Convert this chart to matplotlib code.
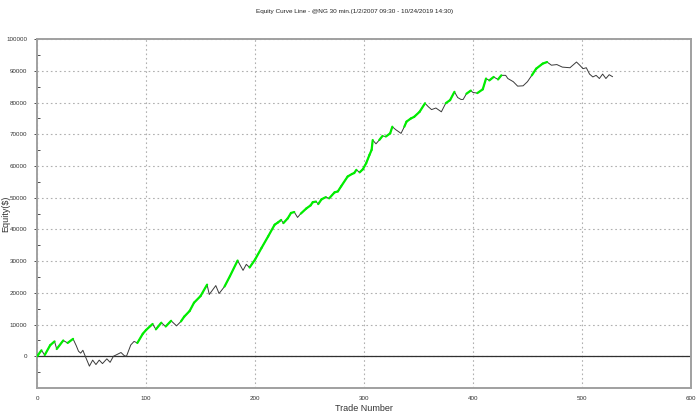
import numpy as np
import matplotlib
matplotlib.use("Agg")
import matplotlib.pyplot as plt
from matplotlib.collections import LineCollection

plt.rcParams['font.family'] = ['Liberation Sans', 'DejaVu Sans']

title = "Equity Curve Line - @NG 30 min.(1/2/2007 09:30 - 10/24/2019 14:30)"
x_label = "Trade Number"
y_label = "Equity($)"

trades = [0, 4, 7, 12, 16, 18, 24, 28, 33, 36, 38, 40, 42, 44, 48, 51, 54, 57, 60, 64,
          67, 70, 73, 77, 80, 82, 86, 89, 92, 97, 100, 106, 109, 114, 118, 123, 128, 132, 135, 140,
          144, 150, 156, 158, 164, 167, 172, 177, 184, 189, 192, 195, 200, 206, 212, 218, 221, 224, 226, 230,
          233, 236, 239, 242, 247, 251, 253, 256, 258, 261, 265, 268, 273, 276, 279, 285, 289, 291, 293, 296,
          299, 302, 305, 307, 308, 311, 314, 317, 320, 324, 326, 329, 332, 334, 337, 339, 343, 346, 351, 356,
          359, 362, 366, 371, 375, 379, 383, 386, 389, 391, 394, 398, 400, 404, 409, 412, 415, 419, 423, 426,
          430, 432, 437, 441, 446, 450, 454, 458, 464, 468, 472, 477, 482, 489, 495, 498, 501, 504, 507, 510,
          513, 516, 519, 522, 525, 528]
equity = [0, 1900, 400, 3500, 4700, 2300, 5000, 4200, 5500, 3300, 1600, 1000, 1900, 200, -3100, -1200, -2600, -1200, -2300, -800,
          -1900, 0, 500, 1200, 200, 0, 3600, 4700, 4200, 7100, 8300, 10200, 8500, 10600, 9400, 11200, 9600, 11000, 12500, 14300,
          16900, 19000, 22600, 19500, 22300, 19800, 22000, 25300, 30200, 27100, 29000, 28000, 30500, 34200, 37800, 41500, 42200, 43000, 42000, 43500,
          45200, 45500, 43800, 45000, 46600, 47600, 48600, 48800, 48000, 49500, 50200, 49800, 51700, 52000, 53600, 56700, 57500, 57800, 58800, 58000,
          59000, 60900, 63500, 65100, 68200, 67000, 68200, 69500, 69300, 70300, 72400, 71500, 70800, 70300, 72400, 74000, 75000, 75500, 77100, 79800,
          78700, 77800, 78300, 77100, 79800, 80800, 83400, 81600, 81000, 81000, 82800, 83800, 83200, 83000, 84200, 87600, 87000, 88100, 87300, 88600,
          88600, 87600, 86600, 85200, 85300, 86600, 88600, 90700, 92300, 92800, 91800, 92000, 91200, 91000, 92800, 91800, 90700, 91000, 89000, 88100,
          88600, 87600, 89000, 87600, 88800, 88200]

x_ticks = [0, 100, 200, 300, 400, 500, 600]
y_ticks = [0, 10000, 20000, 30000, 40000, 50000, 60000, 70000, 80000, 90000, 100000]

fig = plt.figure(figsize=(7.0, 4.17), dpi=100)
ax = fig.add_axes([0.053, 0.0695, 0.934, 0.8365])

x = np.array(trades, dtype=float)
y = np.array(equity, dtype=float)

ax.axhline(0, color='#303030', lw=0.9, zorder=2)
ax.plot(x, y, color='#3a3a3a', lw=0.7, zorder=3)

segs = []
runmax = y[0]
for i in range(len(y) - 1):
    if y[i + 1] > runmax:
        segs.append([(x[i], y[i]), (x[i + 1], y[i + 1])])
    runmax = max(runmax, y[i + 1])
lc = LineCollection(segs, colors='#00ee00', linewidths=1.6, zorder=4, capstyle='round')
ax.add_collection(lc)

ax.set_xlim(0, 600)
ax.set_ylim(-10000, 100000)
ax.set_xticks(x_ticks)
ax.set_yticks(y_ticks)
ax.set_yticks(np.arange(-5000, 100000, 10000), minor=True)
ax.set_xticklabels([str(v) for v in x_ticks])
ax.set_yticklabels([str(v) for v in y_ticks])
ax.grid(True, which='major', linestyle=(0, (1.5, 2.5)), color='#b0b0b0', lw=0.8)
ax.tick_params(axis='both', which='major', labelsize=4.5, colors='#333333', length=2, width=0.6, pad=5)
ax.tick_params(axis='x', which='major', length=0, pad=6)
ax.tick_params(axis='y', which='minor', length=2, width=0.6, colors='#333333', direction='in')
for s in ax.spines.values():
    s.set_color('#a0a0a0')
    s.set_linewidth(1.4)

ax.set_xlabel(x_label, fontsize=6.5, color='#333333', labelpad=2)
ax.set_ylabel(y_label, fontsize=6.5, color='#333333')
ax.yaxis.set_label_coords(-0.041, 0.5)
fig.text(0.507, 0.972, title, ha='center', va='center', fontsize=4.6, color='#222222')

fig.savefig("out.png", dpi=100)
